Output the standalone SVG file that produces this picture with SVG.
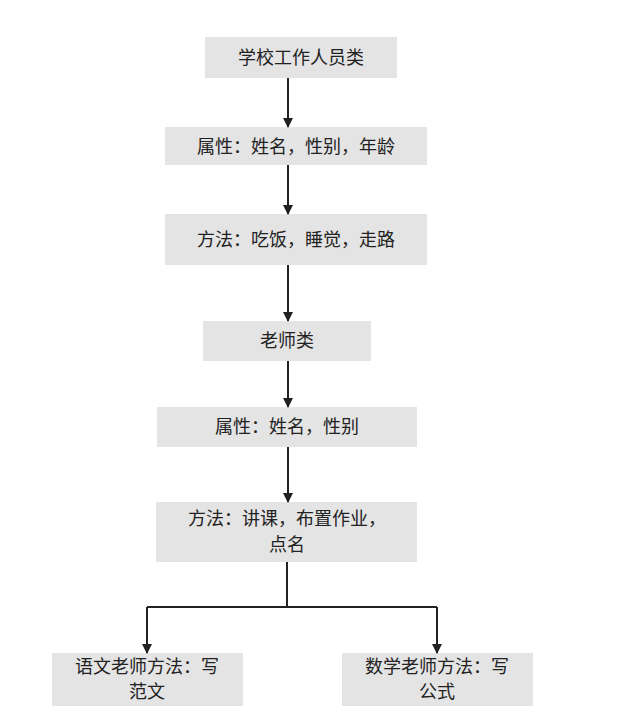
<svg xmlns="http://www.w3.org/2000/svg" width="621" height="722" viewBox="0 0 621 722">
<style>
.b{fill:#e4e4e4}
text{font-family:"Noto Sans CJK SC",sans-serif;font-size:18px;fill:#222;text-anchor:middle}
.c{stroke:#222;stroke-width:2;fill:none}
</style>
<defs><marker id="a" markerWidth="10" markerHeight="10" refX="9" refY="5" orient="auto" markerUnits="userSpaceOnUse"><path d="M0,0L10,5L0,10z" fill="#222"/></marker></defs>
<rect width="621" height="722" fill="#fff"/>
<g id="n1"><rect class="b" x="205" y="37" width="192" height="41"/><text x="301" y="64">学校工作人员类</text></g>
<g id="n2"><rect class="b" x="165" y="127" width="262" height="38"/><text x="296" y="153">属性：姓名，性别，年龄</text></g>
<g id="n3"><rect class="b" x="165" y="214" width="262" height="51"/><text x="296" y="246">方法：吃饭，睡觉，走路</text></g>
<g id="n4"><rect class="b" x="203" y="321" width="168" height="40"/><text x="287" y="347">老师类</text></g>
<g id="n5"><rect class="b" x="157" y="407" width="260" height="40"/><text x="287" y="433">属性：姓名，性别</text></g>
<g id="n6"><rect class="b" x="156" y="502" width="261" height="60"/><text x="287" y="525">方法：讲课，布置作业，</text><text x="287" y="551">点名</text></g>
<g id="n7"><rect class="b" x="52" y="653" width="191" height="53"/><text x="147" y="673">语文老师方法：写</text><text x="147" y="698">范文</text></g>
<g id="n8"><rect class="b" x="342" y="653" width="191" height="53"/><text x="437" y="673">数学老师方法：写</text><text x="437" y="698">公式</text></g>
<g id="edges" class="c">
<path d="M288,78V127" marker-end="url(#a)"/>
<path d="M288,165V214" marker-end="url(#a)"/>
<path d="M288,265V321" marker-end="url(#a)"/>
<path d="M288,361V407" marker-end="url(#a)"/>
<path d="M288,447V502" marker-end="url(#a)"/>
<path d="M287,562V607"/>
<path d="M147,607H437"/>
<path d="M147,607V653" marker-end="url(#a)"/>
<path d="M437,607V653" marker-end="url(#a)"/>
</g>
</svg>
